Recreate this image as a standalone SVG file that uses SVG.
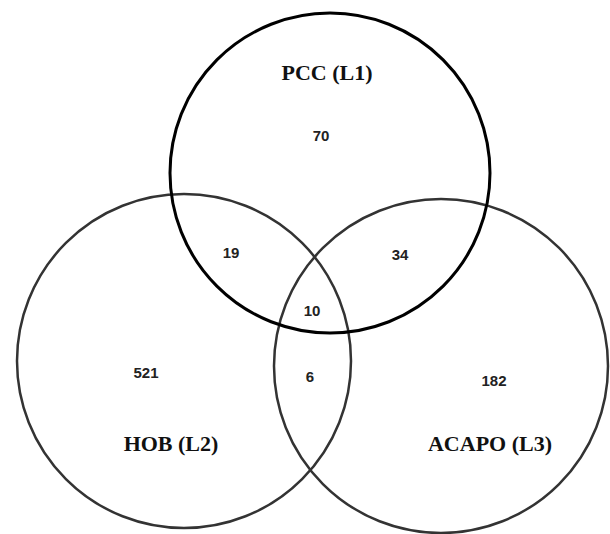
<svg xmlns="http://www.w3.org/2000/svg" width="610" height="534" viewBox="0 0 610 534">
<style>
.c{fill:none;stroke:#333;stroke-width:2.5}
.top{stroke:#000;stroke-width:3}
.lbl{font-family:"Liberation Serif","Times New Roman",serif;font-weight:bold;font-size:22px;fill:#111;text-anchor:middle}
.num{font-family:"Liberation Sans",Arial,sans-serif;font-weight:bold;font-size:15px;fill:#222;text-anchor:middle}
</style>
<rect width="610" height="534" fill="#fff"/>
<g id="hob">
<circle class="c" cx="184" cy="361" r="167"/>
<text class="lbl" x="171" y="451">HOB (L2)</text>
</g>
<g id="acapo">
<circle class="c" cx="441" cy="366" r="167"/>
<text class="lbl" x="490" y="451">ACAPO (L3)</text>
</g>
<g id="pcc">
<circle class="c top" cx="330" cy="173" r="160"/>
<text class="lbl" x="327" y="80">PCC (L1)</text>
</g>
<g id="counts">
<text class="num" x="321" y="141">70</text>
<text class="num" x="231" y="258">19</text>
<text class="num" x="400" y="260">34</text>
<text class="num" x="312" y="316">10</text>
<text class="num" x="146" y="378">521</text>
<text class="num" x="310" y="382">6</text>
<text class="num" x="494" y="386">182</text>
</g>
</svg>
